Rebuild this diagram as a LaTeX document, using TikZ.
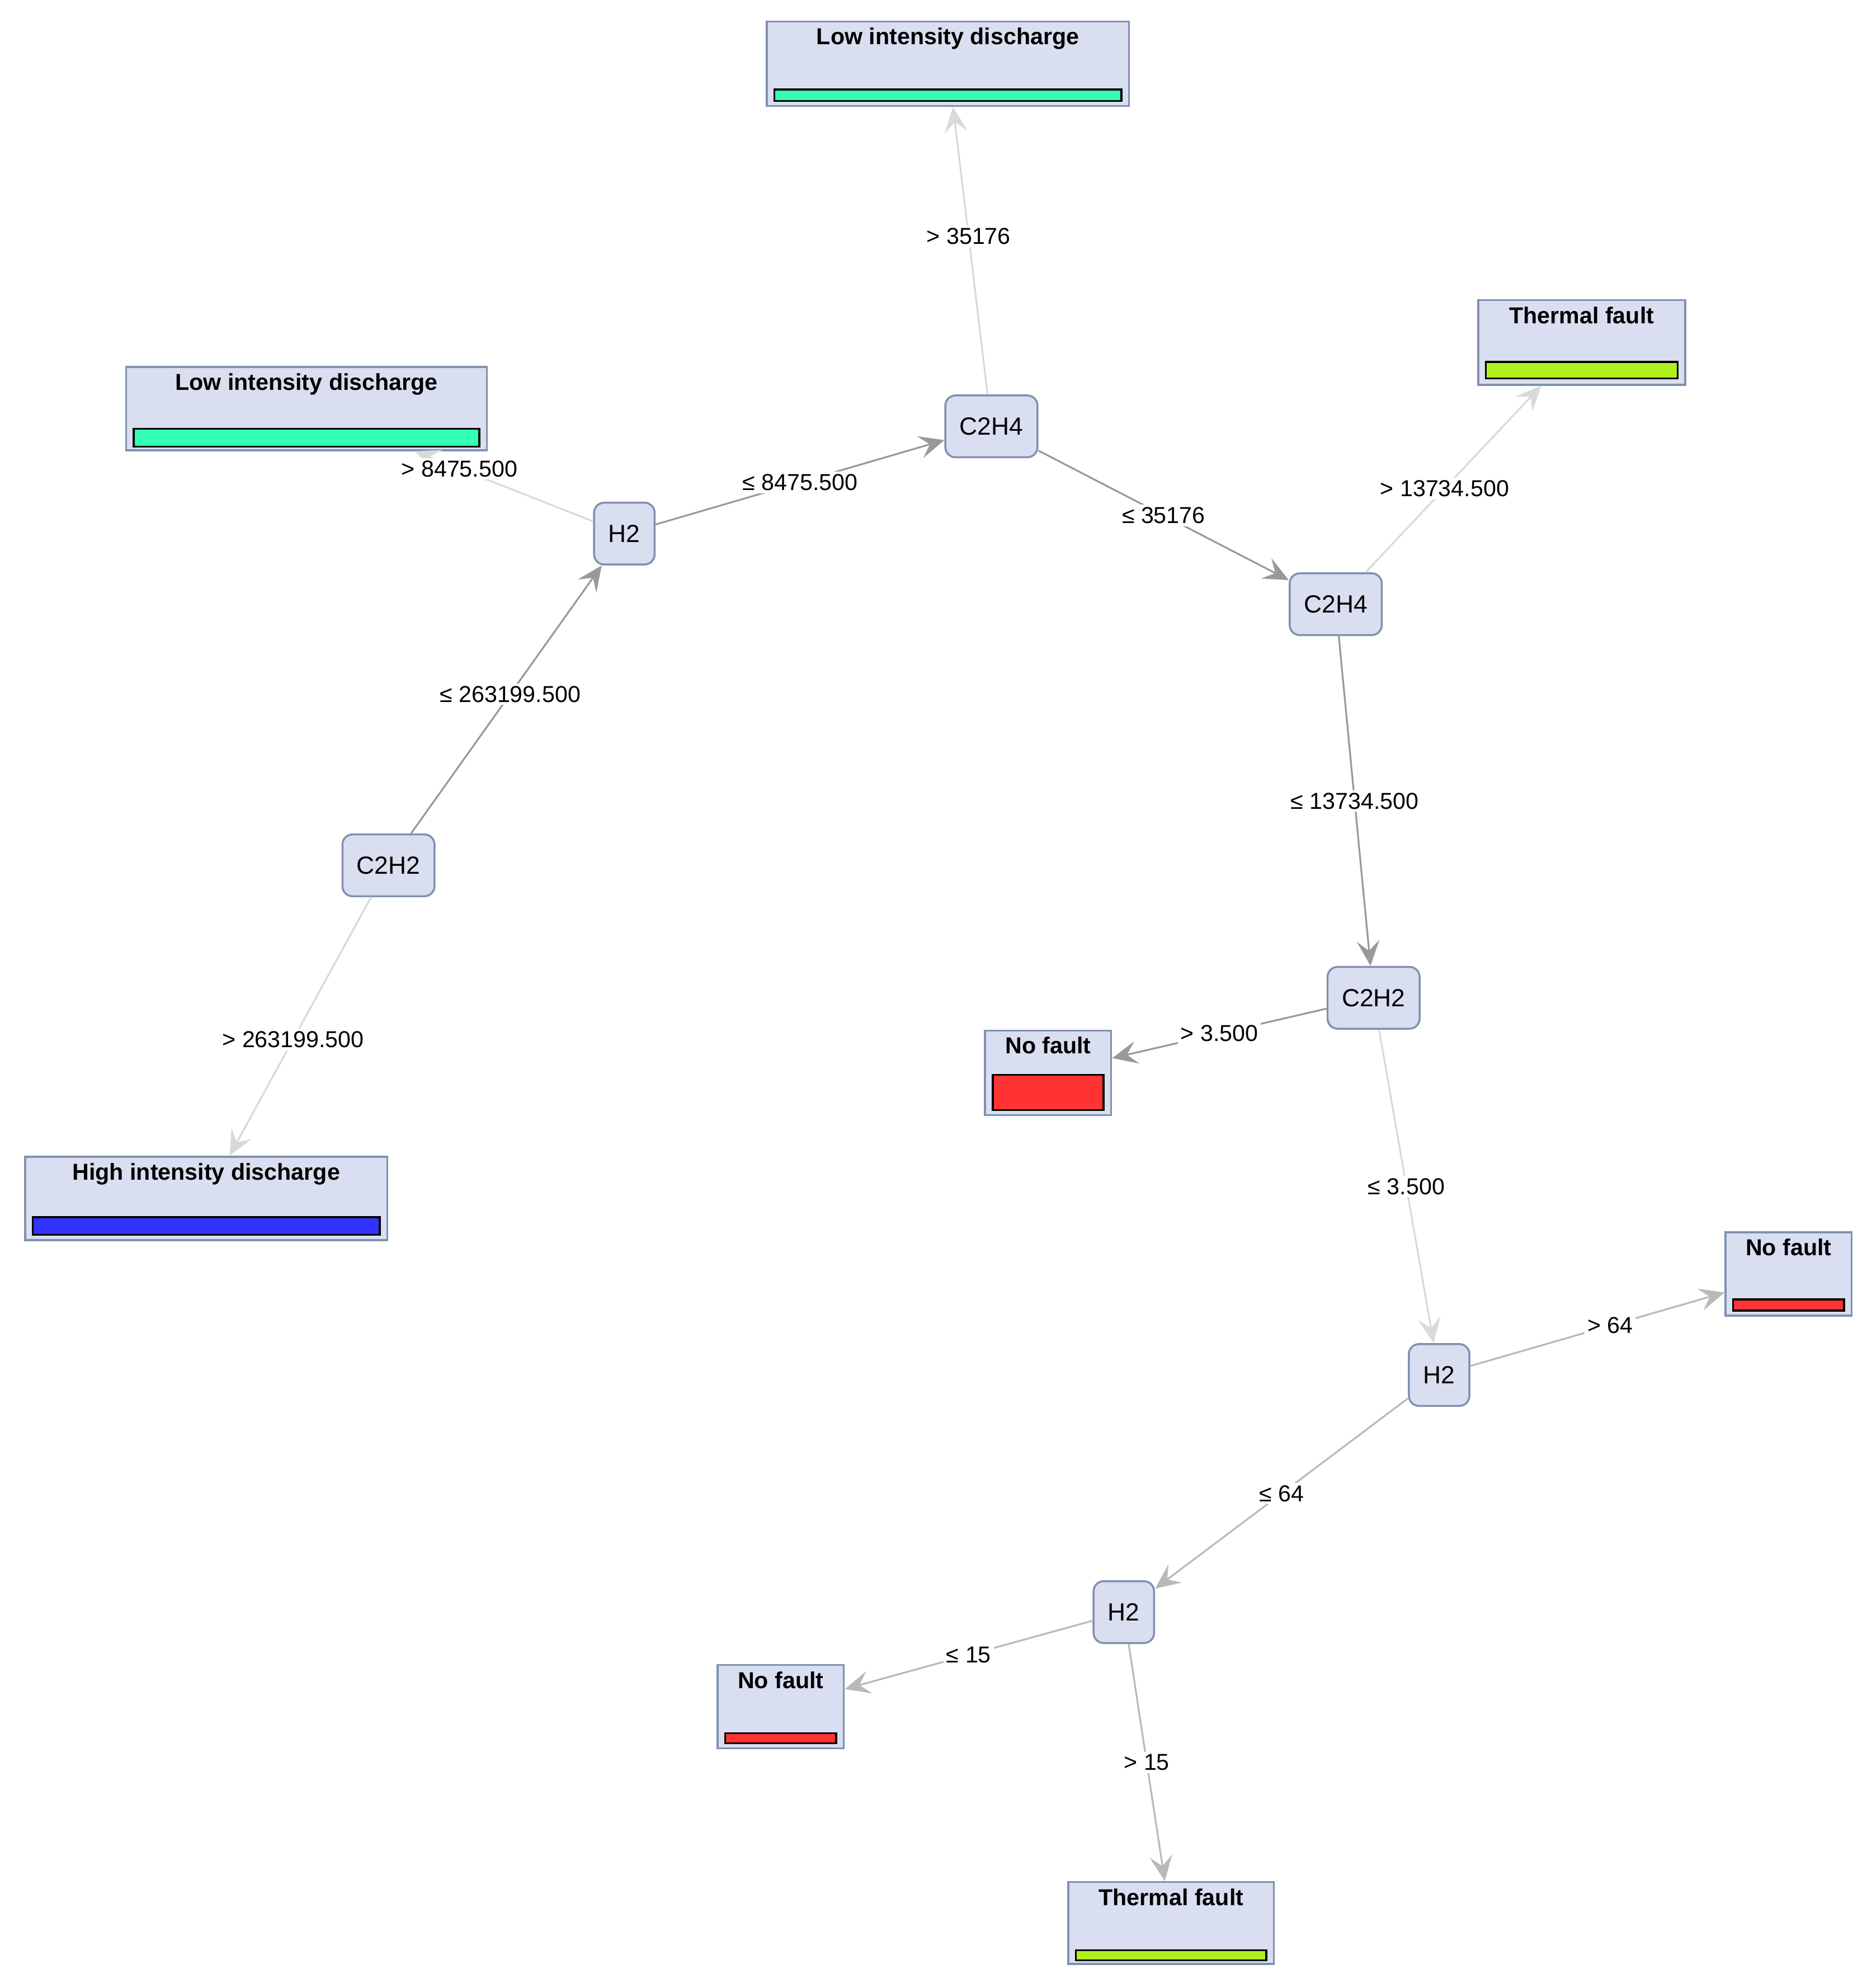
\documentclass[tikz,border=0pt]{standalone}
\usepackage{fontspec}
\setmainfont{Liberation Sans}
\usetikzlibrary{arrows.meta,fit}
\definecolor{boxf}{HTML}{D9DFF0}
\definecolor{boxd}{HTML}{8090B0}
\definecolor{gLow}{HTML}{33FFB3}
\definecolor{gThe}{HTML}{B0F020}
\definecolor{gHigh}{HTML}{3333FF}
\definecolor{gNo}{HTML}{FF3333}
\tikzset{
  leafbox/.style={draw=boxd,fill=boxf,line width=2.2pt,inner sep=0pt},
  leaftxt/.style={font=\fontsize{26}{30}\selectfont\bfseries,anchor=north,inner sep=0pt},
  bar/.style={draw=black,line width=2.2pt},
  dec/.style={draw=boxd,fill=boxf,line width=2.2pt,rounded corners=0.4cm,inner sep=0pt,font=\fontsize{28}{32}\selectfont},
  lab/.style={fill=white,inner sep=3pt,font=\fontsize{26}{30}\selectfont},
  edge/.style={line width=2pt,-{Stealth[length=1.0cm,width=0.9cm,inset=0.4cm]}},
  dark/.style={draw=gray!80!white},
  mid/.style={draw=gray!55!white},
  light/.style={draw=gray!30!white},
}
\newcommand{\leafnode}[9]{%
  \node[leafbox,fit={(#2,#3)(#4,#5)}] (#1) {};
  \node[leaftxt] at ($(#2,#3)!0.5!(#4,#3)+(0,5)$) {#6};
  \draw[bar,fill=#7] (#2+6,#8) rectangle (#4-6,#9);
}
\usetikzlibrary{calc}
\begin{document}
\begin{tikzpicture}[x=0.05cm,y=-0.05cm]
\useasboundingbox (0,0) rectangle (1480,1576);
% leaves
\leafnode{Lone}{608}{17}{895}{84}{Low intensity discharge}{gLow}{71}{80}
\leafnode{Ltwo}{100}{291}{386}{357}{Low intensity discharge}{gLow}{340}{354}
\leafnode{TFone}{1172}{238}{1336}{305}{Thermal fault}{gThe}{287}{300}
\leafnode{HID}{20}{917}{307}{983}{High intensity discharge}{gHigh}{965}{979}
\leafnode{NFone}{781}{817}{881}{884}{No fault}{gNo}{852}{880}
\leafnode{NFtwo}{1368}{977}{1468}{1043}{No fault}{gNo}{1030}{1039}
\leafnode{NFthree}{569}{1320}{669}{1386}{No fault}{gNo}{1374}{1382}
\leafnode{TFtwo}{847}{1492}{1010}{1557}{Thermal fault}{gThe}{1546}{1554}
% decisions
\node[dec,minimum width=3.65cm,minimum height=2.45cm] (A) at (786,338) {C2H4};
\node[dec,minimum width=2.4cm,minimum height=2.45cm] (B) at (495,423) {H2};
\node[dec,minimum width=3.65cm,minimum height=2.45cm] (C) at (308,686) {C2H2};
\node[dec,minimum width=3.65cm,minimum height=2.45cm] (D) at (1059,479) {C2H4};
\node[dec,minimum width=3.65cm,minimum height=2.45cm] (E) at (1089,791) {C2H2};
\node[dec,minimum width=2.4cm,minimum height=2.45cm] (F) at (1141,1090) {H2};
\node[dec,minimum width=2.4cm,minimum height=2.45cm] (G) at (891,1278) {H2};
% edges
\draw[edge,light] (A) -- (Lone) node[lab,pos=0.55] {> 35176};
\draw[edge,dark] (B) -- (A) node[lab,pos=0.5] {≤ 8475.500};
\draw[edge,dark] (A) -- (D) node[lab,pos=0.5] {≤ 35176};
\draw[edge,light] (D) -- (TFone) node[lab,pos=0.45] {> 13734.500};
\draw[edge,light] (B) -- (Ltwo) node[lab,pos=0.75] {> 8475.500};
\draw[edge,dark] (C) -- (B) node[lab,pos=0.52] {≤ 263199.500};
\draw[edge,light] (C) -- (HID) node[lab,pos=0.55] {> 263199.500};
\draw[edge,dark] (D) -- (E) node[lab,pos=0.5] {≤ 13734.500};
\draw[edge,dark] (E) -- (NFone) node[lab,pos=0.5] {> 3.500};
\draw[edge,light] (E) -- (F) node[lab,pos=0.5] {≤ 3.500};
\draw[edge,mid] (F) -- (NFtwo) node[lab,pos=0.55] {> 64};
\draw[edge,mid] (F) -- (G) node[lab,pos=0.5] {≤ 64};
\draw[edge,mid] (G) -- (NFthree) node[lab,pos=0.5] {≤ 15};
\draw[edge,mid] (G) -- (TFtwo) node[lab,pos=0.5] {> 15};
\end{tikzpicture}
\end{document}
